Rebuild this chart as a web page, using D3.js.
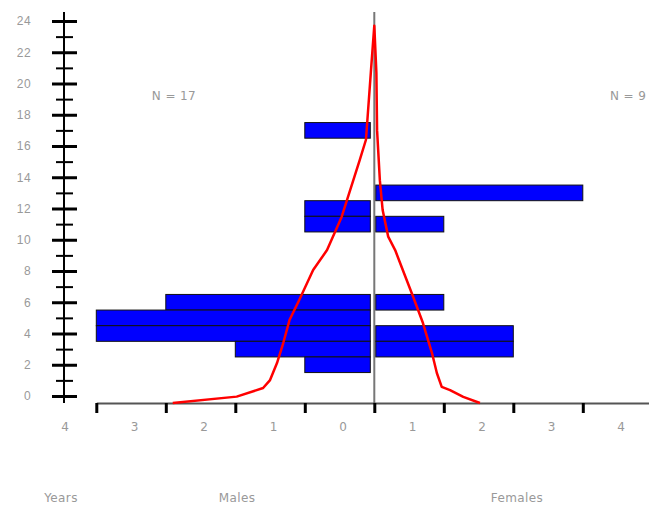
<!DOCTYPE html>
<html>
<head>
<meta charset="utf-8">
<title>Age pyramid</title>
<style>
    body { margin: 0; background: #fff; }
    svg { display: block; font-family: 'DejaVu Sans', sans-serif; }
    .lbl { fill: #999; font-size: 12px; letter-spacing: 0.4px; }
</style>
</head>
<body>
<div id="vis"></div>
<script src="https://cdnjs.cloudflare.com/ajax/libs/d3/7.8.5/d3.min.js"></script>
<script>
// counts per age (years)
const maleAges = [17, 12, 11, 6, 5, 4, 3, 2]
const maleCounts = [1, 1, 1, 3, 4, 4, 2, 1]
const femaleAges = [13, 11, 6, 4, 3]
const femaleCounts = [3, 1, 1, 2, 2]

// red curve (age, value)
const maleCurveAge = [-0.45, -0.04, 0.51, 1.02, 2.11, 3.39, 4.86, 6.14, 8.06, 9.34, 11.46, 15.1, 16.4, 20.7, 23.7]
const maleCurveVal = [2.9, 1.98, 1.60, 1.50, 1.40, 1.31, 1.22, 1.08, 0.88, 0.68, 0.47, 0.21, 0.12, 0.05, 0]
const femaleCurveAge = [23.7, 20.7, 17.0, 13.8, 11.9, 10.2, 9.34, 8.06, 6.34, 4.67, 2.75, 1.47, 0.58, 0.38, -0.06, -0.45]
const femaleCurveVal = [0, 0.03, 0.04, 0.08, 0.12, 0.20, 0.30, 0.41, 0.56, 0.70, 0.83, 0.90, 0.97, 1.09, 1.28, 1.52]

const yTicks = d3.range(0, 25, 2)
const yMinor = d3.range(1, 24, 2)
const xTicks = d3.range(-4, 5)

const width = 649, height = 508

const svg = d3.select('#vis').append('svg')
    .attr('width', width)
    .attr('height', height)

const x = d3.scaleLinear().domain([-4, 4]).range([96.3, 652.3])
const y = d3.scaleLinear().domain([0, 24]).range([396, 21])

// y axis: vertical line, major + minor ticks crossing it
svg.append('line')
    .attr('x1', 64).attr('x2', 64)
    .attr('y1', 12).attr('y2', 403)
    .attr('stroke', '#000').attr('stroke-width', 2)

const major = svg.append('g')
    .attr('transform', 'translate(52,0)')
    .call(d3.axisRight(y).tickValues(yTicks).tickSize(25).tickFormat(''))
major.select('.domain').remove()
major.selectAll('line').attr('stroke', '#000').attr('stroke-width', 3)

const minor = svg.append('g')
    .attr('transform', 'translate(56,0)')
    .call(d3.axisRight(y).tickValues(yMinor).tickSize(17).tickFormat(''))
minor.select('.domain').remove()
minor.selectAll('line').attr('stroke', '#000').attr('stroke-width', 2)

const yLab = svg.append('g')
    .attr('transform', 'translate(33,0)')
    .call(d3.axisLeft(y).tickValues(yTicks).tickSize(0).tickPadding(2))
yLab.select('.domain').remove()
yLab.selectAll('text').attr('class', 'lbl').attr('font-size', null)

// centre line
svg.append('line')
    .attr('x1', x(0)).attr('x2', x(0))
    .attr('y1', 12).attr('y2', 403)
    .attr('stroke', '#777').attr('stroke-width', 2)

// bars
const barH = y(0) - y(1)
svg.append('g')
    .selectAll('rect')
    .data(maleAges.map((a, i) => ({age: a, n: maleCounts[i]})))
    .join('rect')
    .attr('x', d => x(-d.n))
    .attr('y', d => y(d.age + 0.5))
    .attr('width', d => x(0) - 4 - x(-d.n))
    .attr('height', barH)
    .attr('fill', '#0000ff')
    .attr('stroke', '#111')
    .attr('stroke-width', 1)

svg.append('g')
    .selectAll('rect')
    .data(femaleAges.map((a, i) => ({age: a, n: femaleCounts[i]})))
    .join('rect')
    .attr('x', x(0) + 1.5)
    .attr('y', d => y(d.age + 0.5))
    .attr('width', d => x(d.n) - x(0) - 1.5)
    .attr('height', barH)
    .attr('fill', '#0000ff')
    .attr('stroke', '#111')
    .attr('stroke-width', 1)

// x axis
const xAxis = svg.append('g')
    .attr('transform', 'translate(0,403)')
    .call(d3.axisBottom(x).tickValues(xTicks).tickSize(10).tickSizeOuter(0).tickFormat(''))
xAxis.select('.domain').attr('stroke', '#555').attr('stroke-width', 2)
xAxis.selectAll('line').attr('stroke', '#000').attr('stroke-width', 3)

svg.append('g')
    .selectAll('text')
    .data(xTicks)
    .join('text')
    .attr('class', 'lbl')
    .attr('x', d => x(d) - 31)
    .attr('y', 431)
    .attr('text-anchor', 'middle')
    .text(d => Math.abs(d))

// red curve
const line = d3.line()
    .x(d => x(d[1]))
    .y(d => y(d[0]))

const curve = [
    ...maleCurveAge.map((a, i) => [a, -maleCurveVal[i]]),
    ...femaleCurveAge.map((a, i) => [a, femaleCurveVal[i]])
]
svg.append('path')
    .attr('d', line(curve))
    .attr('fill', 'none')
    .attr('stroke', '#ff0000')
    .attr('stroke-width', 2.5)
    .attr('stroke-linejoin', 'round')

// labels
svg.append('text').attr('class', 'lbl').attr('x', 174).attr('y', 100).attr('text-anchor', 'middle').text('N = 17')
svg.append('text').attr('class', 'lbl').attr('x', 610).attr('y', 100).text('N = 9')
svg.append('text').attr('class', 'lbl').attr('x', 61).attr('y', 502).attr('text-anchor', 'middle').text('Years')
svg.append('text').attr('class', 'lbl').attr('x', 237).attr('y', 502).attr('text-anchor', 'middle').text('Males')
svg.append('text').attr('class', 'lbl').attr('x', 517).attr('y', 502).attr('text-anchor', 'middle').text('Females')
</script>
</body>
</html>
